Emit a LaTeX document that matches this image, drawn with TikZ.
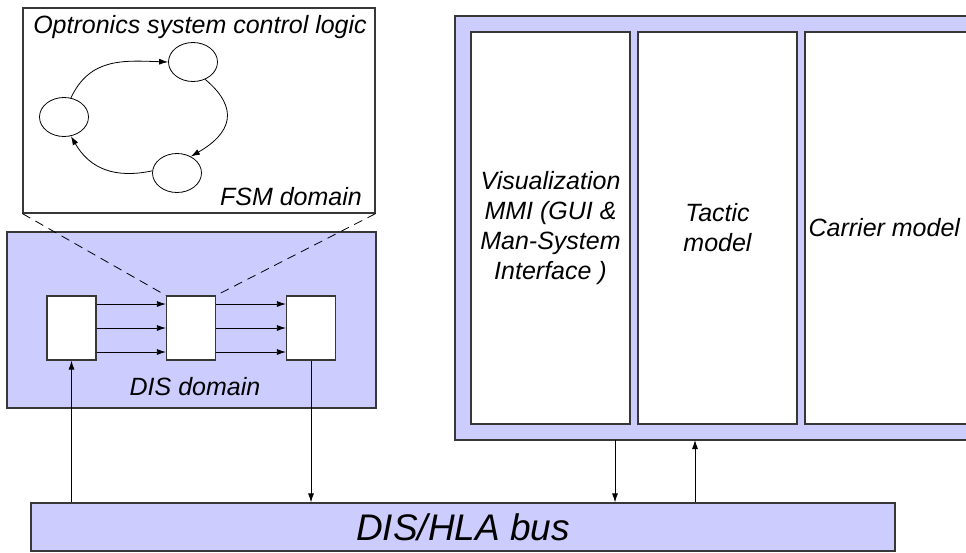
\documentclass[tikz,border=0pt]{standalone}
\usepackage{fontspec}
\setmainfont{Liberation Sans}
\usetikzlibrary{positioning,shapes,arrows.meta}
\definecolor{lav}{RGB}{204,204,255}
\definecolor{rim}{RGB}{55,55,55}

\begin{document}
\begin{tikzpicture}
  [x=1pt,y=-1pt,>={Latex[length=9pt,width=6pt]},
   every node/.style={inner sep=0pt},
   zone/.style={draw=rim,line width=1.2pt,fill=lav},
   blk/.style={draw=rim,line width=1.2pt,fill=white},
   state/.style={ellipse,draw,line width=0.8pt,minimum width=49pt,minimum height=39pt},
   link/.style={line width=0.8pt},
   lbl/.style={font=\fontsize{25pt}{30pt}\selectfont\itshape,align=center}]
  \clip (0,0) rectangle (966,552);

  % FSM domain
  \node[blk,minimum width=352pt,minimum height=205pt] (fsm) at (199,110.5) {};
  \node[lbl] (fsmtitle) at (200,27) {Optronics system control logic};
  \node[lbl,anchor=east] (fsmname) at (362,197) {FSM domain};
  \node[state] (s1) at (193,62) {};
  \node[state] (s2) at (64,117) {};
  \node[state] (s3) at (177,173) {};
  \draw[link,->] (s2.70) to[out=65,in=178,looseness=1.1] (s1.west);
  \draw[link,->] (s1.-55) to[out=-40,in=30,looseness=1.5] (s3.50);
  \draw[link,->] (s3.175) to[out=192,in=-60,looseness=1.1] (s2.-70);

  % DIS domain
  \node[zone,minimum width=369pt,minimum height=176pt] (dis) at (191.5,320) {};
  \node[blk,minimum width=49pt,minimum height=64pt] (b1) at (71.5,328) {};
  \node[blk,minimum width=49pt,minimum height=64pt] (b2) at (191,328) {};
  \node[blk,minimum width=49pt,minimum height=64pt] (b3) at (311,328) {};
  \node[lbl] (disname) at (195,387) {DIS domain};
  \foreach \from/\to in {b1/b2,b2/b3}
    \foreach \dy in {-24,0,24}
      \draw[link,->] ([yshift=\dy pt]\from.east) -- ([yshift=\dy pt]\to.west);
  \draw[link,dash pattern=on 9pt off 6pt] (fsm.south west) -- (b2.north west);
  \draw[link,dash pattern=on 9pt off 6pt] (fsm.south east) -- (b2.north east);

  % simulation models
  \node[zone,minimum width=540pt,minimum height=424pt] (panel) at (725,228) {};
  \node[blk,lbl,minimum width=159pt,minimum height=392pt] (mmi) at (550.5,228)
    {Visualization\\MMI (GUI \&\\Man-System\\Interface )};
  \node[blk,lbl,minimum width=159pt,minimum height=392pt] (tactic) at (717.5,228)
    {Tactic\\model};
  \node[blk,minimum width=190pt,minimum height=392pt] (carrier) at (900,228) {};
  \node[lbl,anchor=west] (carriername) at ([xshift=4pt]carrier.west) {Carrier model};

  % bus
  \node[zone,minimum width=864pt,minimum height=48pt,
        font=\fontsize{37pt}{44pt}\selectfont\itshape] (bus) at (463,527) {DIS/HLA bus};
  \coordinate (tx) at (615,440);
  \coordinate (rx) at (695,440);
  \draw[link,->] (b1.south |- bus.north) -- (b1.south);
  \draw[link,->] (b3.south) -- (b3.south |- bus.north);
  \draw[link,->] (tx) -- (tx |- bus.north);
  \draw[link,->] (rx |- bus.north) -- (rx);
\end{tikzpicture}
\end{document}
